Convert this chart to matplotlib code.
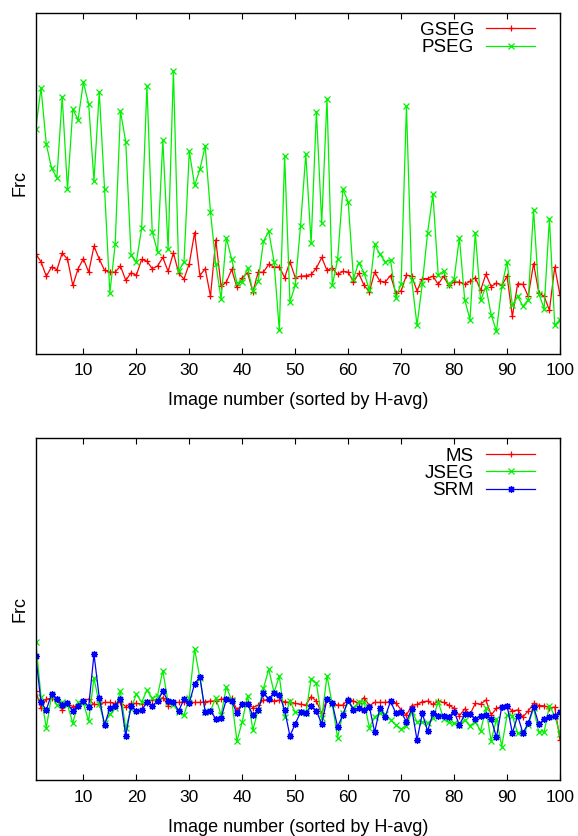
import numpy as np
import matplotlib
matplotlib.use("Agg")
import matplotlib.pyplot as plt

plt.rcParams['font.family'] = ['Liberation Sans', 'DejaVu Sans']

# image index (sorted by H-avg)
image_num = np.arange(1, 101)

# top panel: Frc per image
gseg = [0.293, 0.269, 0.227, 0.254, 0.246, 0.295, 0.277, 0.200, 0.249, 0.278,
        0.239, 0.315, 0.277, 0.244, 0.239, 0.239, 0.257, 0.215, 0.237, 0.230,
        0.276, 0.271, 0.249, 0.257, 0.282, 0.241, 0.296, 0.235, 0.219, 0.264,
        0.355, 0.229, 0.249, 0.168, 0.334, 0.197, 0.210, 0.247, 0.194, 0.223,
        0.237, 0.181, 0.238, 0.239, 0.262, 0.254, 0.254, 0.223, 0.269, 0.223,
        0.227, 0.228, 0.232, 0.251, 0.282, 0.244, 0.251, 0.232, 0.241, 0.239,
        0.210, 0.235, 0.200, 0.181, 0.239, 0.212, 0.210, 0.229, 0.178, 0.184,
        0.230, 0.227, 0.184, 0.220, 0.220, 0.227, 0.203, 0.227, 0.200, 0.210,
        0.210, 0.203, 0.212, 0.223, 0.186, 0.233, 0.196, 0.207, 0.200, 0.227,
        0.109, 0.205, 0.203, 0.168, 0.264, 0.178, 0.168, 0.127, 0.254, 0.171]
pseg = [0.658, 0.779, 0.614, 0.543, 0.516, 0.753, 0.482, 0.716, 0.686, 0.796,
        0.731, 0.507, 0.767, 0.482, 0.178, 0.320, 0.711, 0.621, 0.288, 0.269,
        0.367, 0.786, 0.357, 0.298, 0.626, 0.306, 0.830, 0.242, 0.269, 0.594,
        0.493, 0.540, 0.609, 0.415, 0.264, 0.161, 0.339, 0.277, 0.207, 0.210,
        0.251, 0.183, 0.212, 0.329, 0.359, 0.269, 0.068, 0.580, 0.152, 0.200,
        0.374, 0.585, 0.323, 0.709, 0.383, 0.747, 0.200, 0.276, 0.482, 0.445,
        0.220, 0.267, 0.237, 0.186, 0.320, 0.291, 0.269, 0.274, 0.163, 0.205,
        0.725, 0.215, 0.083, 0.205, 0.355, 0.467, 0.230, 0.242, 0.202, 0.219,
        0.340, 0.158, 0.100, 0.355, 0.156, 0.196, 0.114, 0.066, 0.197, 0.269,
        0.142, 0.168, 0.139, 0.158, 0.422, 0.176, 0.132, 0.396, 0.083, 0.100]

# bottom panel
ms = [0.261, 0.210, 0.237, 0.239, 0.237, 0.205, 0.224, 0.215, 0.217, 0.231,
      0.237, 0.221, 0.221, 0.227, 0.227, 0.224, 0.227, 0.215, 0.224, 0.224,
      0.222, 0.226, 0.234, 0.234, 0.241, 0.218, 0.227, 0.227, 0.227, 0.226,
      0.227, 0.227, 0.229, 0.231, 0.231, 0.237, 0.237, 0.239, 0.205, 0.221,
      0.227, 0.212, 0.219, 0.234, 0.234, 0.231, 0.234, 0.229, 0.227, 0.224,
      0.222, 0.219, 0.244, 0.231, 0.195, 0.237, 0.224, 0.219, 0.219, 0.237,
      0.231, 0.224, 0.241, 0.218, 0.227, 0.227, 0.227, 0.229, 0.226, 0.205,
      0.190, 0.218, 0.221, 0.229, 0.231, 0.221, 0.231, 0.227, 0.219, 0.210,
      0.188, 0.208, 0.192, 0.224, 0.222, 0.234, 0.190, 0.210, 0.215, 0.216,
      0.202, 0.205, 0.185, 0.202, 0.224, 0.218, 0.217, 0.212, 0.213, 0.117]
jseg = [0.405, 0.244, 0.153, 0.247, 0.220, 0.227, 0.220, 0.166, 0.227, 0.224,
        0.173, 0.299, 0.221, 0.166, 0.192, 0.210, 0.259, 0.151, 0.208, 0.252,
        0.227, 0.263, 0.239, 0.247, 0.320, 0.227, 0.220, 0.198, 0.190, 0.241,
        0.383, 0.298, 0.198, 0.202, 0.241, 0.190, 0.272, 0.234, 0.114, 0.171,
        0.247, 0.146, 0.205, 0.268, 0.324, 0.256, 0.304, 0.183, 0.231, 0.198,
        0.198, 0.195, 0.296, 0.283, 0.180, 0.305, 0.221, 0.124, 0.195, 0.227,
        0.212, 0.227, 0.229, 0.153, 0.185, 0.195, 0.192, 0.176, 0.161, 0.149,
        0.159, 0.200, 0.171, 0.171, 0.166, 0.180, 0.229, 0.179, 0.169, 0.166,
        0.161, 0.176, 0.159, 0.171, 0.143, 0.210, 0.114, 0.179, 0.098, 0.190,
        0.188, 0.137, 0.140, 0.161, 0.210, 0.140, 0.141, 0.217, 0.188, 0.134]
srm = [0.364, 0.227, 0.205, 0.252, 0.237, 0.220, 0.224, 0.202, 0.218, 0.231,
       0.215, 0.368, 0.241, 0.161, 0.210, 0.218, 0.237, 0.130, 0.217, 0.202,
       0.205, 0.227, 0.217, 0.231, 0.259, 0.231, 0.229, 0.202, 0.237, 0.226,
       0.281, 0.302, 0.200, 0.202, 0.179, 0.182, 0.236, 0.231, 0.195, 0.222,
       0.222, 0.190, 0.205, 0.254, 0.237, 0.256, 0.249, 0.205, 0.129, 0.164,
       0.198, 0.195, 0.218, 0.202, 0.164, 0.237, 0.224, 0.156, 0.190, 0.234,
       0.205, 0.210, 0.205, 0.215, 0.140, 0.212, 0.185, 0.231, 0.195, 0.198,
       0.171, 0.208, 0.117, 0.195, 0.143, 0.195, 0.188, 0.188, 0.185, 0.200,
       0.161, 0.192, 0.192, 0.179, 0.188, 0.190, 0.178, 0.125, 0.215, 0.218,
       0.137, 0.188, 0.137, 0.166, 0.215, 0.163, 0.179, 0.185, 0.188, 0.198]

xticks = list(range(10, 101, 10))
ast = (8, 2, 0)  # gnuplot style asterisk (+ and x)
fs = 13

fig = plt.figure(figsize=(5.78, 8.36), dpi=100)
ax1 = fig.add_axes([0.0618, 0.577, 0.9071, 0.408])
ax2 = fig.add_axes([0.0618, 0.067, 0.9071, 0.4087])

ax1.plot(image_num, gseg, color='#ff0000', lw=0.9, marker='+', ms=5, mew=0.9, label='GSEG')
ax1.plot(image_num, pseg, color='#00f000', lw=0.9, marker='x', ms=4, mew=0.9, label='PSEG')

ax2.plot(image_num, ms, color='#ff0000', lw=0.9, marker='+', ms=5, mew=0.9, label='MS')
ax2.plot(image_num, jseg, color='#00f000', lw=0.9, marker='x', ms=4, mew=0.9, label='JSEG')
ax2.plot(image_num, srm, color='#0000ff', lw=0.9, marker=ast, ms=5, mew=0.9, label='SRM')

for ax in (ax1, ax2):
    ax.set_xlim(1, 100)
    ax.set_ylim(0, 1)
    ax.set_xticks(xticks)
    ax.set_yticks([])
    ax.tick_params(axis='x', direction='in', top=True, length=4, labelsize=fs - 0.5, pad=7)
    for sp in ax.spines.values():
        sp.set_linewidth(1)
    ax.set_xlabel('Image number (sorted by H-avg)', fontsize=fs, labelpad=10)
    ax.set_ylabel('Frc', fontsize=fs, labelpad=5)
    ax.legend(loc='upper right', bbox_to_anchor=(0.97, 1.0), frameon=False,
              markerfirst=False, fontsize=fs + 0.5,
              handlelength=2.6, handletextpad=0.65, labelspacing=0.0,
              borderaxespad=0.2, borderpad=0.3)

fig.savefig('out.png', dpi=100)
